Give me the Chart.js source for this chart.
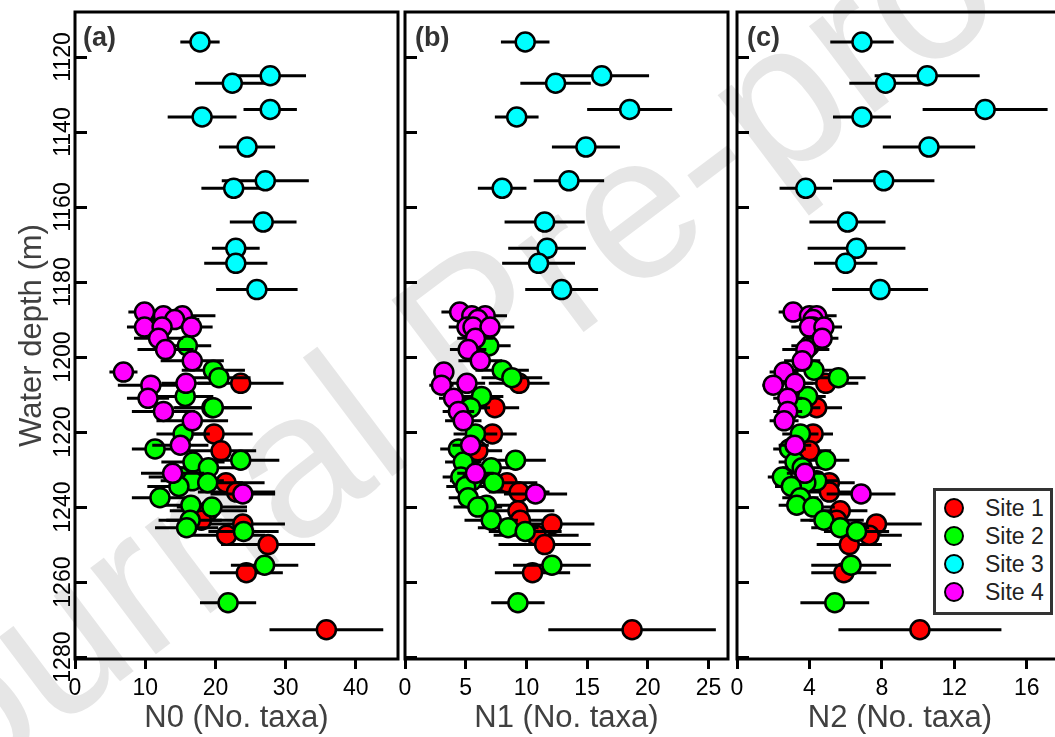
<!DOCTYPE html>
<html>
<head>
<meta charset="utf-8">
<script src="https://cdn.jsdelivr.net/npm/chart.js@4.4.0/dist/chart.umd.min.js"></script>
<style>
  html, body { margin: 0; padding: 0; background: #fff; overflow: hidden; }
  #wrap { position: relative; width: 1055px; height: 737px; overflow: hidden; font-family: Arial, "Liberation Sans", sans-serif; }
  #stamp {
    position: absolute; left: 470px; top: 328px;
    transform: translate(-50%, -50%) rotate(-37deg);
    font-size: 205px; color: #e6e6e6; white-space: nowrap; line-height: 1;
  }
  canvas { position: absolute; top: 0; }
  .tag { position: absolute; top: 24px; font-weight: bold; font-size: 27px; color: #333; line-height: 1; }
  #legend {
    position: absolute; left: 933px; top: 488px; width: 114px; height: 118px;
    border: 3px solid #333; background: #fff; padding-top: 3px; box-sizing: content-box;
  }
  #legend .row { height: 28px; display: flex; align-items: center; }
  #legend .dot { width: 16px; height: 16px; border: 2.5px solid #000; border-radius: 50%; margin-left: 8px; margin-right: 21px; }
  #legend .txt { font-size: 23px; color: #222; }
</style>
</head>
<body>
<div id="wrap">
  <div id="stamp">Journal Pre-proof</div>
  <canvas id="chartN0" width="400" height="737" style="left:0px"></canvas>
  <canvas id="chartN1" width="332" height="737" style="left:398px"></canvas>
  <canvas id="chartN2" width="342" height="737" style="left:728px"></canvas>
  <div class="tag" style="left:83px">(a)</div>
  <div class="tag" style="left:415px">(b)</div>
  <div class="tag" style="left:747px">(c)</div>
  <div id="legend"></div>
</div>
<script>
// sites, axes and labels
const siteLabels = ['Site 1', 'Site 2', 'Site 3', 'Site 4'];
const siteColors = ['#ff0000', '#00ff00', '#00ffff', '#ff00ff'];
const xTitles = ['N0 (No. taxa)', 'N1 (No. taxa)', 'N2 (No. taxa)'];
const xTicksN0 = [0, 10, 20, 30, 40];
const xTicksN1 = [0, 5, 10, 15, 20, 25];
const xTicksN2 = [0, 4, 8, 12, 16];
const depthTicks = [1120, 1140, 1160, 1180, 1200, 1220, 1240, 1260, 1280];

// Site 1
const depthSite1 = [1207, 1213.5, 1220.5, 1225, 1233.5, 1236, 1241, 1243.5, 1244.5, 1247.5, 1250, 1257.5, 1272.7];
const n0Site1 = [23.6, 19.5, 19.8, 20.8, 21.5, 23.0, 19.0, 18.0, 23.9, 21.6, 27.5, 24.4, 35.8];
const n0ErrSite1 = [6.1, 5.5, 5.5, 5.0, 5.5, 5.5, 5.5, 5.0, 6.0, 5.5, 6.7, 5.2, 8.1];
const n1Site1 = [9.4, 7.4, 7.2, 6.0, 8.4, 9.4, 9.3, 9.5, 12.1, 10.8, 11.5, 10.5, 18.7];
const n1ErrSite1 = [2.5, 2.0, 2.0, 2.0, 2.5, 2.5, 3.0, 2.5, 3.5, 3.5, 3.8, 3.1, 6.9];
const n2Site1 = [4.9, 4.4, 4.2, 4.0, 5.1, 5.1, 5.7, 5.5, 7.7, 7.3, 6.2, 5.9, 10.1];
const n2ErrSite1 = [1.8, 1.4, 1.1, 1.2, 1.4, 1.4, 1.5, 1.5, 2.5, 1.8, 1.8, 1.8, 4.5];

// Site 2
const depthSite2 = [1197, 1203.5, 1205.5, 1210.5, 1213.5, 1220.5, 1224.5, 1227.5, 1228, 1229.5, 1232, 1233, 1233.5, 1234.5, 1237.5, 1239.5, 1240, 1243.5, 1245.5, 1246.5, 1255.5, 1265.5];
const n0Site2 = [16.0, 19.7, 20.5, 15.7, 19.7, 15.4, 11.4, 23.6, 16.8, 19.0, 15.0, 16.7, 18.9, 14.8, 12.1, 16.5, 19.5, 16.4, 15.9, 24.0, 27.0, 21.8];
const n0ErrSite2 = [3.4, 4.5, 4.5, 4.0, 5.5, 3.8, 3.3, 5.5, 4.5, 5.0, 4.5, 4.5, 5.0, 4.5, 4.0, 4.5, 5.0, 4.5, 4.5, 5.0, 4.8, 4.0];
const n1Site2 = [6.9, 8.0, 8.8, 6.3, 5.4, 5.8, 4.4, 9.1, 4.8, 7.1, 4.6, 5.5, 7.3, 5.0, 5.2, 6.7, 6.0, 7.1, 8.5, 9.9, 12.1, 9.3];
const n1ErrSite2 = [1.8, 2.2, 2.5, 1.8, 1.6, 1.8, 1.5, 2.5, 1.5, 2.2, 1.5, 1.8, 2.2, 1.6, 1.6, 2.0, 2.0, 2.2, 2.5, 3.0, 3.2, 2.2];
const n2Site2 = [4.0, 4.25, 5.6, 3.9, 3.6, 3.5, 2.9, 4.9, 3.2, 3.6, 2.5, 4.4, 3.8, 3.0, 3.5, 3.3, 4.2, 4.8, 5.7, 6.6, 6.3, 5.4];
const n2ErrSite2 = [1.0, 1.2, 1.5, 1.0, 1.0, 1.0, 0.9, 1.3, 0.9, 1.1, 0.8, 1.2, 1.1, 0.9, 1.0, 1.0, 1.2, 1.3, 1.6, 1.8, 2.2, 1.9];

// Site 3
const depthSite3 = [1116, 1125, 1127, 1134, 1136, 1144, 1153, 1155, 1164, 1171, 1175, 1182];
const n0Site3 = [17.8, 27.8, 22.4, 27.8, 18.1, 24.5, 27.1, 22.6, 26.8, 22.9, 22.9, 25.9];
const n0ErrSite3 = [2.8, 5.1, 5.3, 3.8, 4.9, 4.0, 6.2, 4.6, 4.75, 3.4, 4.5, 5.8];
const n1Site3 = [9.9, 16.2, 12.4, 18.5, 9.2, 14.9, 13.5, 8.0, 11.5, 11.7, 11.0, 12.9];
const n1ErrSite3 = [2.0, 3.9, 2.9, 3.5, 1.8, 2.8, 2.9, 2.0, 3.3, 3.2, 3.0, 3.0];
const n2Site3 = [6.9, 10.5, 8.2, 13.7, 6.9, 10.6, 8.1, 3.8, 6.1, 6.6, 6.0, 7.9];
const n2ErrSite3 = [1.75, 2.9, 2.0, 3.45, 1.6, 2.55, 2.8, 1.45, 2.1, 2.7, 1.75, 2.65];

// Site 4
const depthSite4 = [1188, 1189, 1189, 1190, 1192, 1192, 1192, 1195, 1198, 1201, 1204, 1207, 1207.5, 1211, 1214.5, 1217, 1223.5, 1231, 1236.5];
const n0Site4 = [9.9, 12.6, 15.3, 14.2, 9.9, 12.4, 16.6, 11.9, 12.9, 16.7, 6.9, 15.8, 10.8, 10.4, 12.6, 16.7, 15.0, 13.9, 23.9];
const n0ErrSite4 = [2.3, 3.5, 4.7, 3.5, 2.5, 3.5, 3.0, 3.5, 4.0, 4.5, 2.0, 3.5, 4.7, 3.0, 4.5, 5.1, 4.0, 4.5, 4.6];
const n1Site4 = [4.5, 5.5, 6.6, 6.0, 5.1, 5.6, 7.0, 5.8, 5.2, 6.2, 3.2, 5.1, 3.0, 4.0, 4.4, 4.8, 5.4, 5.8, 10.75];
const n1ErrSite4 = [1.5, 1.5, 1.8, 1.5, 1.5, 1.5, 2.0, 1.5, 1.5, 1.8, 0.8, 1.5, 1.0, 1.2, 1.3, 1.5, 1.5, 1.5, 2.6];
const n2Site4 = [3.1, 4.0, 4.4, 4.2, 4.2, 4.0, 4.8, 4.7, 3.8, 3.6, 2.6, 3.2, 2.0, 2.8, 2.8, 2.6, 3.2, 3.75, 6.85];
const n2ErrSite4 = [0.8, 1.0, 1.1, 1.0, 1.0, 1.0, 1.0, 0.9, 1.3, 1.0, 0.8, 1.0, 0.6, 0.8, 0.8, 0.8, 0.9, 1.0, 1.9];

const sites = [
  { depth: depthSite1, values: [n0Site1, n1Site1, n2Site1], errors: [n0ErrSite1, n1ErrSite1, n2ErrSite1] },
  { depth: depthSite2, values: [n0Site2, n1Site2, n2Site2], errors: [n0ErrSite2, n1ErrSite2, n2ErrSite2] },
  { depth: depthSite3, values: [n0Site3, n1Site3, n2Site3], errors: [n0ErrSite3, n1ErrSite3, n2ErrSite3] },
  { depth: depthSite4, values: [n0Site4, n1Site4, n2Site4], errors: [n0ErrSite4, n1ErrSite4, n2ErrSite4] }
];

// canvas ids, axis extents and box sizes for the three panels
const panels = [
  { id: 'chartN0', ticks: xTicksN0, xMax: 46, yWidth: 75, padRight: 2 },
  { id: 'chartN1', ticks: xTicksN1, xMax: 26.6, yWidth: 7, padRight: 2 },
  { id: 'chartN2', ticks: xTicksN2, xMax: 18, yWidth: 9, padRight: 7 }
];

Chart.defaults.font.family = "Arial, 'Liberation Sans', sans-serif";

// box around the plotting area
const frame = {
  id: 'frame',
  afterDraw(chart) {
    const { ctx, chartArea: a } = chart;
    ctx.save();
    ctx.lineWidth = 3;
    ctx.strokeStyle = '#000';
    ctx.strokeRect(a.left, a.top, a.right - a.left, a.bottom - a.top);
    ctx.restore();
  }
};

// horizontal error bars as one broken line per site
function barSegments(depths, values, errs) {
  const segs = [];
  depths.forEach((d, i) => {
    segs.push({ x: values[i] - errs[i], y: d }, { x: values[i] + errs[i], y: d }, { x: null, y: null });
  });
  return segs;
}

function buildPanel(p, idx) {
  const datasets = [];
  sites.forEach((s, k) => {
    datasets.push({
      label: siteLabels[k] + ' range',
      data: barSegments(s.depth, s.values[idx], s.errors[idx]),
      showLine: true,
      spanGaps: false,
      borderColor: '#000',
      borderWidth: 3,
      pointRadius: 0,
      order: 8 - 2 * k
    });
    datasets.push({
      label: siteLabels[k],
      data: s.depth.map((d, i) => ({ x: s.values[idx][i], y: d })),
      pointRadius: 9.5,
      pointBorderWidth: 2.5,
      pointBorderColor: '#000',
      pointBackgroundColor: siteColors[k],
      order: 7 - 2 * k
    });
  });

  new Chart(document.getElementById(p.id), {
    type: 'scatter',
    data: { datasets },
    plugins: [frame],
    options: {
      responsive: false,
      animation: false,
      devicePixelRatio: 1,
      events: [],
      layout: { autoPadding: false, padding: { top: 12, right: p.padRight, left: 0, bottom: 0 } },
      plugins: { legend: { display: false }, tooltip: { enabled: false } },
      scales: {
        x: {
          type: 'linear',
          min: 0,
          max: p.xMax,
          afterBuildTicks: ax => { ax.ticks = p.ticks.map(v => ({ value: v })); },
          afterFit: ax => { ax.height = 78; ax.paddingLeft = 0; ax.paddingRight = 0; },
          grid: { drawOnChartArea: false, tickLength: 10, tickWidth: 3, tickColor: '#000' },
          border: { display: false },
          ticks: { autoSkip: false, maxRotation: 0, padding: 6, font: { size: 23 }, color: '#000' },
          title: { display: true, text: xTitles[idx], font: { size: 31 }, color: '#404040', padding: 0 }
        },
        y: {
          type: 'linear',
          reverse: true,
          min: 1108,
          max: 1280.5,
          afterBuildTicks: ax => { ax.ticks = depthTicks.map(v => ({ value: v })); },
          afterFit: ax => { ax.width = p.yWidth; ax.paddingTop = 0; ax.paddingBottom = 0; },
          grid: { drawOnChartArea: false, tickLength: -12, tickWidth: 3, tickColor: '#000' },
          border: { display: false },
          ticks: {
            display: idx === 0,
            minRotation: 90,
            maxRotation: 90,
            crossAlign: 'center',
            padding: -2,
            font: { size: 23, lineHeight: 1 },
            color: '#000',
            callback: v => String(v)
          },
          title: { display: idx === 0, text: 'Water depth (m)', font: { size: 31 }, color: '#404040', padding: { top: 14 } }
        }
      }
    }
  });
}

panels.forEach(buildPanel);

// legend for the sites
const legend = document.getElementById('legend');
siteLabels.forEach((label, k) => {
  const row = document.createElement('div');
  row.className = 'row';
  const dot = document.createElement('span');
  dot.className = 'dot';
  dot.style.background = siteColors[k];
  const txt = document.createElement('span');
  txt.className = 'txt';
  txt.textContent = label;
  row.appendChild(dot);
  row.appendChild(txt);
  legend.appendChild(row);
});
</script>
</body>
</html>
